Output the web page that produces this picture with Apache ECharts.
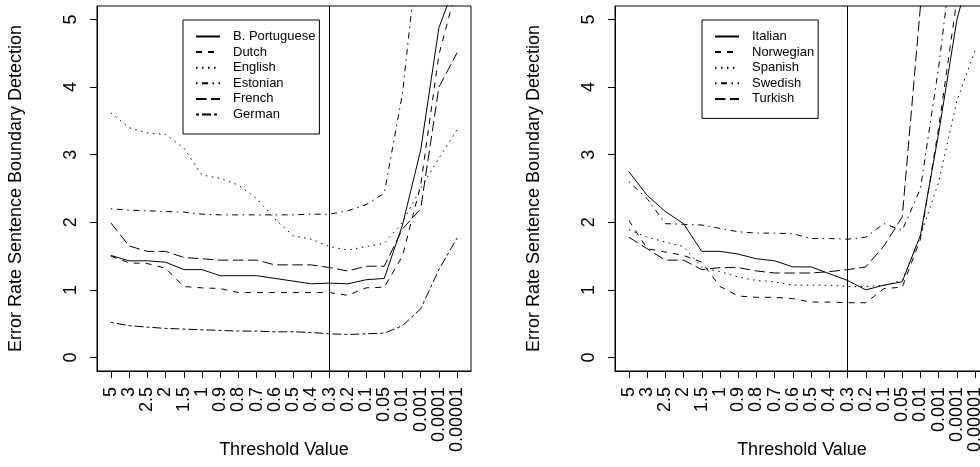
<!DOCTYPE html>
<html>
<head>
<meta charset="utf-8">
<script src="https://cdn.jsdelivr.net/npm/echarts@6/dist/echarts.min.js"></script>
<style>
  html, body { margin: 0; padding: 0; background: #fff; }
  #chart { width: 980px; height: 467px; }
</style>
</head>
<body>
<div id="chart"></div>
<script>
// threshold values on the x axis (index 1..20)
const thresholds = ['5', '3', '2.5', '2', '1.5', '1', '0.9', '0.8', '0.7', '0.6', '0.5', '0.4', '0.3', '0.2', '0.1', '0.05', '0.01', '0.001', '0.0001', '0.00001'];
const yTicks = [0, 1, 2, 3, 4, 5];
const cutoffIndex = 13; // vertical line at 0.3

// left panel
const portuguese = [1.51, 1.43, 1.43, 1.41, 1.30, 1.30, 1.21, 1.21, 1.21, 1.17, 1.13, 1.09, 1.10, 1.09, 1.15, 1.17, 1.96, 3.07, 4.88, 5.60];
const dutch      = [1.50, 1.40, 1.39, 1.32, 1.05, 1.03, 1.02, 0.96, 0.96, 0.96, 0.96, 0.96, 0.96, 0.92, 1.03, 1.04, 1.50, 2.55, 4.48, 5.50];
const english    = [3.62, 3.40, 3.32, 3.30, 3.10, 2.70, 2.65, 2.55, 2.35, 2.05, 1.80, 1.75, 1.64, 1.59, 1.64, 1.69, 2.00, 2.50, 2.95, 3.37];
const estonian   = [2.20, 2.18, 2.17, 2.16, 2.15, 2.12, 2.11, 2.11, 2.11, 2.11, 2.11, 2.12, 2.12, 2.17, 2.26, 2.43, 3.90, 6.40, 7.50, 8.00];
const french     = [1.99, 1.65, 1.57, 1.57, 1.48, 1.46, 1.44, 1.44, 1.44, 1.37, 1.37, 1.37, 1.33, 1.28, 1.35, 1.35, 1.90, 2.20, 4.00, 4.51];
const german     = [0.52, 0.47, 0.45, 0.43, 0.42, 0.41, 0.40, 0.39, 0.39, 0.38, 0.38, 0.37, 0.35, 0.34, 0.35, 0.36, 0.47, 0.72, 1.30, 1.77];

// right panel
const italian    = [2.75, 2.40, 2.16, 1.98, 1.57, 1.57, 1.53, 1.46, 1.43, 1.34, 1.34, 1.24, 1.14, 1.00, 1.07, 1.12, 1.81, 3.32, 5.00, 6.00];
const norwegian  = [2.03, 1.61, 1.56, 1.51, 1.41, 1.05, 0.91, 0.89, 0.89, 0.87, 0.82, 0.82, 0.81, 0.81, 1.02, 1.04, 1.75, 3.40, 5.30, 7.00];
const spanish    = [1.89, 1.78, 1.71, 1.64, 1.33, 1.27, 1.19, 1.14, 1.12, 1.07, 1.07, 1.07, 1.05, 1.05, 1.07, 1.14, 1.80, 2.60, 3.80, 4.55];
const swedish    = [2.60, 2.35, 1.98, 1.97, 1.96, 1.91, 1.86, 1.84, 1.84, 1.83, 1.76, 1.76, 1.75, 1.78, 1.98, 1.88, 2.50, 4.30, 6.50, 8.00];
const turkish    = [1.78, 1.61, 1.44, 1.44, 1.30, 1.33, 1.33, 1.28, 1.25, 1.25, 1.25, 1.27, 1.30, 1.34, 1.65, 2.08, 5.20, 9.00, 10.0, 11.0];

const FONT = 'Liberation Sans';
const xIdx = thresholds.map((t, i) => i + 1);

// R style line types
const lty = {
  solid: 'solid',
  dashed: [6, 6],
  dotted: [1.5, 4.5],
  dotdash: [1.5, 4.5, 6, 4.5],
  longdash: [10.5, 4.5],
  twodash: [3, 3, 9, 3]
};

function makeX(gridIndex) {
  return {
    type: 'value',
    gridIndex: gridIndex,
    min: 0.24,
    max: 20.76,
    name: 'Threshold Value',
    nameLocation: 'middle',
    nameGap: 70,
    nameMoveOverlap: false,
    nameTextStyle: { fontFamily: FONT, fontSize: 18, color: '#000' },
    axisLine: { show: true, onZero: false, lineStyle: { color: '#000', width: 1 } },
    axisTick: { show: true, inside: false, length: 7, customValues: xIdx, lineStyle: { color: '#000' } },
    axisLabel: {
      show: true,
      customValues: xIdx,
      rotate: 90,
      margin: 16,
      hideOverlap: false,
      showMinLabel: true,
      showMaxLabel: true,
      fontFamily: FONT,
      fontSize: 18,
      color: '#000',
      formatter: v => thresholds[Math.round(v) - 1] || ''
    },
    splitLine: { show: false }
  };
}

function makeY(gridIndex) {
  return {
    type: 'value',
    gridIndex: gridIndex,
    min: -0.2,
    max: 5.2,
    name: 'Error Rate Sentence Boundary Detection',
    nameLocation: 'middle',
    nameGap: 72,
    nameMoveOverlap: false,
    nameTextStyle: { fontFamily: FONT, fontSize: 18, color: '#000' },
    axisLine: { show: true, onZero: false, lineStyle: { color: '#000', width: 1 } },
    axisTick: { show: true, inside: false, length: 7, customValues: yTicks, lineStyle: { color: '#000' } },
    axisLabel: {
      show: true,
      customValues: yTicks,
      rotate: 90,
      margin: 17,
      showMinLabel: true,
      showMaxLabel: true,
      fontFamily: FONT,
      fontSize: 18,
      color: '#000'
    },
    splitLine: { show: false }
  };
}

function line(name, values, type, gridIndex) {
  return {
    name: name,
    type: 'line',
    xAxisIndex: gridIndex,
    yAxisIndex: gridIndex,
    data: values.map((v, i) => [i + 1, v]),
    symbol: 'none',
    clip: true,
    silent: true,
    lineStyle: { color: '#000', width: 1, type: type },
    itemStyle: { color: '#000' }
  };
}

function cutLine(gridIndex) {
  return {
    type: 'line',
    xAxisIndex: gridIndex,
    yAxisIndex: gridIndex,
    data: [],
    silent: true,
    markLine: {
      silent: true,
      symbol: 'none',
      label: { show: false },
      lineStyle: { color: '#000', width: 1, type: 'solid' },
      data: [{ xAxis: cutoffIndex }]
    }
  };
}

function legend(names, left, top) {
  return {
    data: names,
    orient: 'vertical',
    left: left,
    top: top,
    padding: [10, 4, 13, 12],
    itemWidth: 24,
    itemHeight: 14,
    itemGap: 2.6,
    borderColor: '#000',
    borderWidth: 1,
    selectedMode: false,
    itemStyle: { opacity: 0 },
    textStyle: { fontFamily: FONT, fontSize: 13, color: '#000', padding: [0, 0, 0, 8] }
  };
}

const chart = echarts.init(document.getElementById('chart'));

const option = {
  animation: false,
  backgroundColor: '#fff',
  grid: [
    { left: 97, top: 6, width: 374, height: 365, outerBoundsMode: 'none', show: true, borderColor: '#000', borderWidth: 1, backgroundColor: 'transparent' },
    { left: 615, top: 6, width: 374, height: 365, outerBoundsMode: 'none', show: true, borderColor: '#000', borderWidth: 1, backgroundColor: 'transparent' }
  ],
  xAxis: [makeX(0), makeX(1)],
  yAxis: [makeY(0), makeY(1)],
  legend: [
    legend(['B. Portuguese', 'Dutch', 'English', 'Estonian', 'French', 'German'], 183, 20),
    legend(['Italian', 'Norwegian', 'Spanish', 'Swedish', 'Turkish'], 702, 20)
  ],
  series: [
    line('B. Portuguese', portuguese, lty.solid, 0),
    line('Dutch', dutch, lty.dashed, 0),
    line('English', english, lty.dotted, 0),
    line('Estonian', estonian, lty.dotdash, 0),
    line('French', french, lty.longdash, 0),
    line('German', german, lty.twodash, 0),
    cutLine(0),
    line('Italian', italian, lty.solid, 1),
    line('Norwegian', norwegian, lty.dashed, 1),
    line('Spanish', spanish, lty.dotted, 1),
    line('Swedish', swedish, lty.dotdash, 1),
    line('Turkish', turkish, lty.longdash, 1),
    cutLine(1)
  ]
};

chart.setOption(option);
</script>
</body>
</html>
